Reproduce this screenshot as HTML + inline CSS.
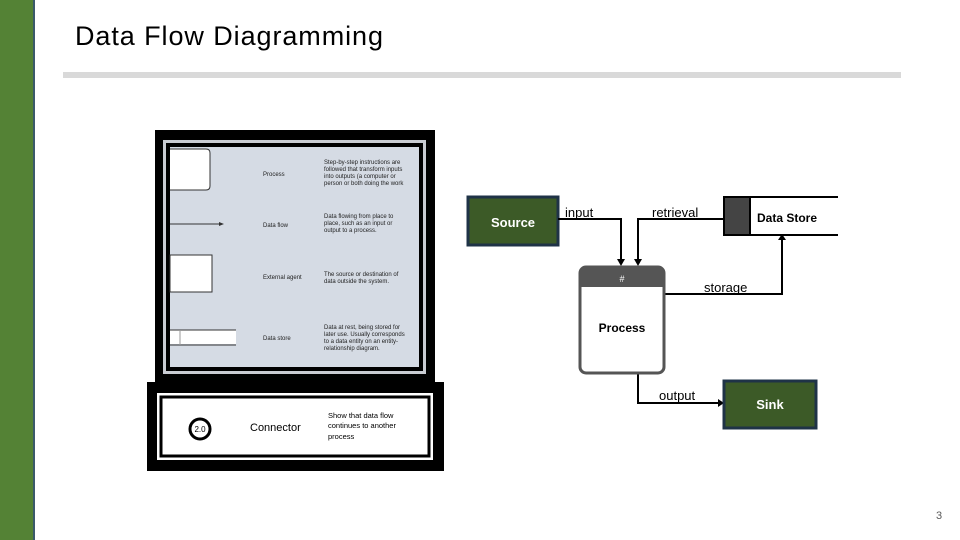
<!DOCTYPE html>
<html><head><meta charset="utf-8"><style>
html,body{margin:0;padding:0;background:#fff;}
svg{display:block;font-family:"Liberation Sans",sans-serif;}
</style></head><body>
<svg width="960" height="540" viewBox="0 0 960 540" xmlns="http://www.w3.org/2000/svg">
<rect x="0" y="0" width="34" height="540" fill="#548235"/>
<rect x="33" y="0" width="2" height="540" fill="#3b5a6a"/>
<text x="75" y="45" font-size="27" fill="#000" textLength="308">Data Flow Diagramming</text>
<rect x="63" y="72" width="838" height="6" fill="#d9d9d9"/>

<!-- left reference panel -->
<rect x="155" y="130" width="280" height="252" fill="#000"/>
<rect x="163" y="140" width="263" height="234" fill="#c9ccd2"/>
<rect x="166" y="143" width="257" height="228" fill="#000"/>
<rect x="170" y="147" width="249" height="220" fill="#d5dbe4"/>
<path d="M170 149 H206 Q210 149 210 153 V186 Q210 190 206 190 H170" fill="#fff" stroke="#333" stroke-width="1"/>
<line x1="170" y1="224" x2="221" y2="224" stroke="#333" stroke-width="1"/>
<polygon points="224,224 219,222 219,226" fill="#333"/>
<rect x="170" y="255" width="42" height="37" fill="#fff" stroke="#333" stroke-width="1"/>
<rect x="170" y="330" width="66" height="14" fill="#fff"/>
<line x1="170" y1="330" x2="236" y2="330" stroke="#333"/>
<line x1="170" y1="345" x2="236" y2="345" stroke="#333"/>
<line x1="180" y1="330" x2="180" y2="345" stroke="#999"/>
<g font-size="6" fill="#222">
<text x="263" y="176">Process</text>
<text x="263" y="227">Data flow</text>
<text x="263" y="279">External agent</text>
<text x="263" y="340">Data store</text>
<text x="324" y="164">Step-by-step instructions are</text>
<text x="324" y="171">followed that transform inputs</text>
<text x="324" y="178">into outputs (a computer or</text>
<text x="324" y="185">person or both doing the work</text>
<text x="324" y="218">Data flowing from place to</text>
<text x="324" y="225">place, such as an input or</text>
<text x="324" y="232">output to a process.</text>
<text x="324" y="276">The source or destination of</text>
<text x="324" y="283">data outside the system.</text>
<text x="324" y="329">Data at rest, being stored for</text>
<text x="324" y="336">later use. Usually corresponds</text>
<text x="324" y="343">to a data entity on an entity-</text>
<text x="324" y="350">relationship diagram.</text>
</g>
<rect x="147" y="382" width="297" height="89" fill="#000"/>
<rect x="157" y="393" width="276" height="67" fill="#fff"/>
<rect x="161" y="397" width="268" height="59" fill="none" stroke="#000" stroke-width="3"/>
<circle cx="200" cy="429" r="10" fill="#fff" stroke="#000" stroke-width="3"/>
<text x="200" y="432" font-size="8" text-anchor="middle">2.0</text>
<text x="250" y="431" font-size="11">Connector</text>
<g font-size="7.5"><text x="328" y="418">Show that data flow</text><text x="328" y="428">continues to another</text><text x="328" y="439">process</text></g>

<!-- DFD -->
<rect x="468" y="197" width="90" height="48" fill="#3c5a27" stroke="#1f3347" stroke-width="3"/>
<text x="513" y="227" font-size="13" font-weight="bold" fill="#fff" text-anchor="middle">Source</text>
<g stroke="#000" stroke-width="2" fill="none">
<polyline points="558,219 621,219 621,261"/>
<polyline points="723,219 638,219 638,261"/>
<polyline points="664,294 782,294 782,238"/>
<polyline points="638,373 638,403 720,403"/>
</g>
<g fill="#000">
<polygon points="617,259 625,259 621,266"/>
<polygon points="634,259 642,259 638,266"/>
<polygon points="778,240 786,240 782,234"/>
<polygon points="718,399 718,407 724,403"/>
</g>
<g font-size="13" fill="#000">
<text x="565" y="217">input</text>
<text x="652" y="217">retrieval</text>
<text x="704" y="292">storage</text>
<text x="659" y="400">output</text>
</g>
<rect x="723" y="197" width="115" height="38" fill="#fff"/>
<line x1="723" y1="197" x2="838" y2="197" stroke="#000" stroke-width="2"/>
<line x1="723" y1="235" x2="838" y2="235" stroke="#000" stroke-width="2"/>
<rect x="724" y="197" width="26" height="38" fill="#444" stroke="#000" stroke-width="2"/>
<text x="757" y="222" font-size="12" font-weight="bold" fill="#000">Data Store</text>
<rect x="580" y="267" width="84" height="106" rx="6" fill="#fff" stroke="#555" stroke-width="3"/>
<path d="M580 287 V272 Q580 267 585 267 H659 Q664 267 664 272 V287 Z" fill="#555"/>
<text x="622" y="282" font-size="9" fill="#fff" text-anchor="middle">#</text>
<text x="622" y="332" font-size="12" font-weight="bold" fill="#000" text-anchor="middle">Process</text>
<rect x="724" y="381" width="92" height="47" fill="#3c5a27" stroke="#1f3347" stroke-width="3"/>
<text x="770" y="409" font-size="13" font-weight="bold" fill="#fff" text-anchor="middle">Sink</text>
<text x="936" y="519" font-size="11" fill="#595959">3</text>
</svg>
</body></html>
